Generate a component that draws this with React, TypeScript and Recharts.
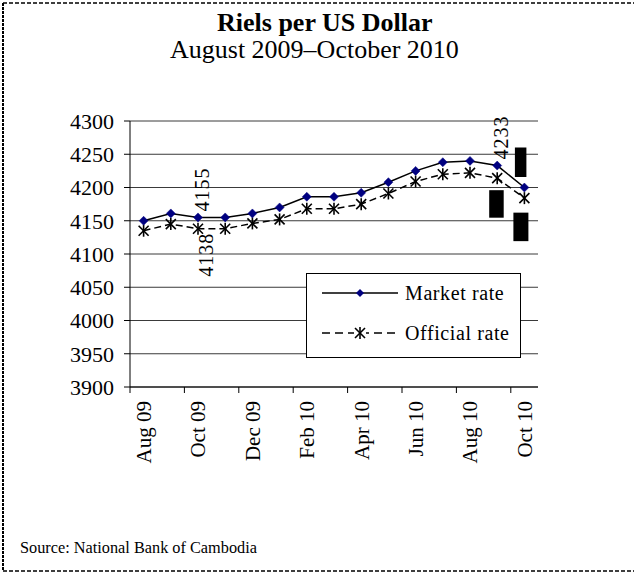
import React from 'react';
import { LineChart, Line, XAxis, YAxis, CartesianGrid, LabelList } from 'recharts';

const months = ['Aug 09', 'Sep 09', 'Oct 09', 'Nov 09', 'Dec 09', 'Jan 10', 'Feb 10', 'Mar 10', 'Apr 10', 'May 10', 'Jun 10', 'Jul 10', 'Aug 10', 'Sep 10', 'Oct 10'];
const marketRate = [4150, 4161, 4155, 4155, 4161, 4170, 4186, 4186, 4192, 4208, 4225, 4238, 4240, 4233, 4200];
const officialRate = [4135, 4145, 4138, 4138, 4146, 4152, 4168, 4168, 4175, 4191, 4209, 4220, 4222, 4214, 4184];
const yTicks = [3900, 3950, 4000, 4050, 4100, 4150, 4200, 4250, 4300];
const marketLabelIdx = [2, 13];
const officialLabelIdx = [2];
const marketBlockIdx = [14];
const officialBlockIdx = [13, 14];

const data = months.map((m, i) => ({ month: m, market: marketRate[i], official: officialRate[i] }));

const FONT = '"Liberation Serif", "Times New Roman", serif';
const W = 634;
const H = 579;
const PLOT_LEFT = 130;
const PLOT_RIGHT = 538;
const HALF_BAND = (PLOT_RIGHT - PLOT_LEFT) / months.length / 2;

const XTick = (props: any) => {
  const { x, y, payload } = props;
  const tx = x;
  const ty = y + 14;
  return (
    <g>
      <line x1={x - HALF_BAND} x2={x - HALF_BAND} y1={y} y2={y + 6} stroke="#000" strokeWidth={1} />
      <text x={tx} y={ty} transform={`rotate(-90 ${tx} ${ty})`} textAnchor="end" dy="0.35em" fontSize={21} fontFamily={FONT} fill="#000">
        {payload.value}
      </text>
    </g>
  );
};

const Diamond = (props: any) => {
  const { cx, cy, index } = props;
  if (cx == null || cy == null) return null;
  const r = 4.5;
  return <polygon key={`md-${index}`} points={`${cx},${cy - r} ${cx + r},${cy} ${cx},${cy + r} ${cx - r},${cy}`} fill="#000080" stroke="#000080" strokeWidth={0.5} />;
};

const Star = (props: any) => {
  const { cx, cy, index } = props;
  if (cx == null || cy == null) return null;
  const r = 5;
  return (
    <g key={`os-${index}`}>
      <line x1={cx - r} y1={cy - r} x2={cx + r} y2={cy + r} stroke="#000" strokeWidth={1.6} />
      <line x1={cx - r} y1={cy + r} x2={cx + r} y2={cy - r} stroke="#000" strokeWidth={1.6} />
      <line x1={cx} y1={cy - r - 1} x2={cx} y2={cy + r + 1} stroke="#000" strokeWidth={1.6} />
    </g>
  );
};

const rotText = (ax: number, ay: number, anchor: string, value: any, key: string) => (
  <text key={key} x={ax} y={ay} transform={`rotate(-90 ${ax} ${ay})`} textAnchor={anchor} dy="0.35em" fontSize={20} fontFamily={FONT} fill="#000" letterSpacing={1}>
    {value}
  </text>
);

const MarketLabel = (props: any) => {
  const { x, y, value, index } = props;
  if (x == null || y == null) return null;
  if (marketLabelIdx.includes(index)) {
    return rotText(x + 4, y - 6, 'start', value, `ml-${index}`);
  }
  if (marketBlockIdx.includes(index)) {
    return <rect key={`mb-${index}`} x={x - 9.5} y={y - 40} width={11.5} height={29.5} fill="#000" />;
  }
  return null;
};

const OfficialLabel = (props: any) => {
  const { x, y, value, index } = props;
  if (x == null || y == null) return null;
  if (officialLabelIdx.includes(index)) {
    return rotText(x + 8, y + 4, 'end', value, `ol-${index}`);
  }
  if (officialBlockIdx.includes(index)) {
    const off = index === 13 ? { dx: -8, dy: 12, w: 14.5, h: 27.5 } : { dx: -11, dy: 14.5, w: 15, h: 28.5 };
    return <rect key={`ob-${index}`} x={x + off.dx} y={y + off.dy} width={off.w} height={off.h} fill="#000" />;
  }
  return null;
};

export default function App() {
  return (
    <div style={{ position: 'absolute', left: 0, top: 0, width: W, height: H, background: '#fff', overflow: 'hidden', fontFamily: FONT }}>
      <LineChart width={W} height={H} data={data} margin={{ top: 121, right: 96, bottom: 112, left: 70 }}>
        <CartesianGrid horizontal vertical={false} stroke="#3a3a3a" strokeWidth={1} />
        <XAxis
          dataKey="month"
          interval={1}
          tickLine={false}
          tickSize={0}
          tickMargin={0}
          height={80}
          padding={{ left: HALF_BAND, right: HALF_BAND }}
          axisLine={{ stroke: '#000', strokeWidth: 1 }}
          tick={<XTick />}
        />
        <YAxis
          domain={[3900, 4300]}
          ticks={yTicks}
          interval={0}
          width={60}
          tickSize={6}
          tickMargin={10}
          axisLine={{ stroke: '#000', strokeWidth: 1 }}
          tickLine={{ stroke: '#000', strokeWidth: 1 }}
          tick={{ fontSize: 22, fontFamily: FONT, fill: '#000' }}
        />
        <YAxis
          yAxisId="right"
          orientation="right"
          domain={[3900, 4300]}
          ticks={yTicks}
          tick={false}
          tickLine={false}
          width={0}
          axisLine={{ stroke: '#808080', strokeWidth: 1 }}
        />
        <Line
          type="linear"
          dataKey="official"
          stroke="#000"
          strokeWidth={1.5}
          strokeDasharray="7 4"
          dot={<Star />}
          activeDot={false}
          isAnimationActive={false}
        >
          <LabelList dataKey="official" content={<OfficialLabel />} />
        </Line>
        <Line
          type="linear"
          dataKey="market"
          stroke="#000"
          strokeWidth={1.5}
          dot={<Diamond />}
          activeDot={false}
          isAnimationActive={false}
        >
          <LabelList dataKey="market" content={<MarketLabel />} />
        </Line>
      </LineChart>

      <svg width={W} height={H} style={{ position: 'absolute', left: 0, top: 0, pointerEvents: 'none' }}>
        <text x={217} y={31} textAnchor="start" fontSize={26} fontWeight="bold" fontFamily={FONT} fill="#000">Riels per US Dollar</text>
        <text x={170} y={58} textAnchor="start" fontSize={26} fontFamily={FONT} fill="#000">August 2009–October 2010</text>
        <text x={20} y={553} fontSize={16.3} fontFamily={FONT} fill="#000">Source: National Bank of Cambodia</text>
        <line x1={3} y1={3} x2={W} y2={3} stroke="#000" strokeWidth={1.5} strokeDasharray="4 2" />
        <line x1={3} y1={571} x2={W} y2={571} stroke="#000" strokeWidth={1.5} strokeDasharray="4 2" />
        <line x1={3} y1={3} x2={3} y2={571} stroke="#000" strokeWidth={2} strokeDasharray="3 1" />

        <g>
          <rect x={306.5} y={273.5} width={214} height={84} fill="#fff" stroke="#000" strokeWidth={1} />
          <line x1={322} x2={398} y1={293} y2={293} stroke="#000" strokeWidth={1.5} />
          <polygon points="360,289 364,293 360,297 356,293" fill="#000080" />
          <text x={405} y={293} dy="0.35em" fontSize={20} fontFamily={FONT} fill="#000" letterSpacing={0.6}>Market rate</text>
          <line x1={322} x2={398} y1={333} y2={333} stroke="#000" strokeWidth={1.5} strokeDasharray="8 5" />
          <rect x={354} y={327} width={12} height={12} fill="#fff" />
          <line x1={355} y1={328} x2={365} y2={338} stroke="#000" strokeWidth={1.6} />
          <line x1={355} y1={338} x2={365} y2={328} stroke="#000" strokeWidth={1.6} />
          <line x1={360} y1={327} x2={360} y2={339} stroke="#000" strokeWidth={1.6} />
          <text x={405} y={333} dy="0.35em" fontSize={20} fontFamily={FONT} fill="#000" letterSpacing={0.6}>Official rate</text>
        </g>
      </svg>
    </div>
  );
}
